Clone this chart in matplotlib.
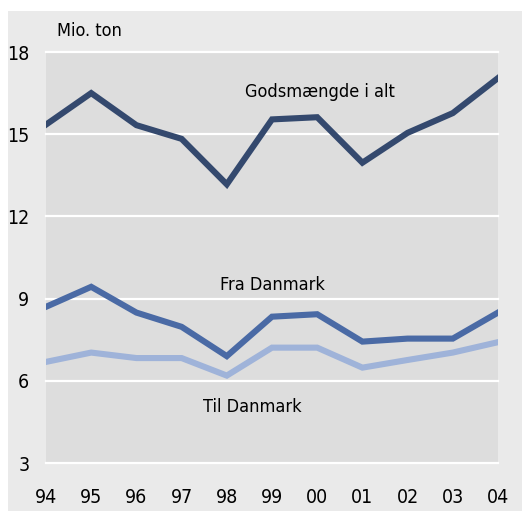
import matplotlib
matplotlib.use("Agg")
import matplotlib.pyplot as plt
from matplotlib.patches import Rectangle
from matplotlib import font_manager

years = ["94", "95", "96", "97", "98", "99", "00", "01", "02", "03", "04"]
godsmaengde = [15.35, 16.5, 15.33, 14.83, 13.17, 15.54, 15.62, 13.96, 15.05, 15.77, 17.05]
fra_danmark = [8.7, 9.43, 8.49, 7.97, 6.9, 8.34, 8.43, 7.43, 7.54, 7.54, 8.49]
til_danmark = [6.69, 7.03, 6.83, 6.83, 6.19, 7.21, 7.21, 6.48, 6.76, 7.03, 7.41]
yticks = [3, 6, 9, 12, 15, 18]

names = sorted({f.name + " | " + str(f.stretch) for f in font_manager.fontManager.ttflist})
print(names)

plt.rcParams['font.family'] = ['DejaVu Sans']
plt.rcParams['font.stretch'] = 'condensed'

W, H = 522, 511
fig = plt.figure(figsize=(W / 100, H / 100), dpi=100, facecolor="white")
fig.patches.append(Rectangle((8 / W, 0), 1 - 8 / W, (H - 11) / H, transform=fig.transFigure,
                             facecolor="#eaeaea", edgecolor="none", zorder=-10))

ax = fig.add_axes([46 / W, (H - 463) / H, (498 - 46) / W, (463 - 52) / H])
ax.set_facecolor("#dddddd")
x = list(range(len(years)))

for v in yticks:
    ax.axhline(v, color="white", lw=1.6, zorder=1, clip_on=False)

lw = 4.4
ax.plot(x, til_danmark, color="#9fb3d9", lw=lw, zorder=3, solid_joinstyle="miter")
ax.plot(x, fra_danmark, color="#4a6aa5", lw=lw, zorder=4, solid_joinstyle="miter")
ax.plot(x, godsmaengde, color="#34496e", lw=lw, zorder=5, solid_joinstyle="miter")

ax.set_xlim(0, 10)
ax.set_ylim(3, 18)
ax.set_xticks(x)
ax.set_xticklabels(years)
ax.set_yticks(yticks)
ax.set_yticklabels([str(v) for v in yticks])
ax.tick_params(axis="both", length=0, labelsize=14, colors="black")
ax.tick_params(axis="x", pad=18)
ax.tick_params(axis="y", pad=12)
for s in ax.spines.values():
    s.set_visible(False)

ax.text(6.06, 16.54, "Godsmængde i alt", ha="center", va="center", fontsize=13)
ax.text(5.02, 9.5, "Fra Danmark", ha="center", va="center", fontsize=13)
ax.text(4.57, 5.05, "Til Danmark", ha="center", va="center", fontsize=13)
fig.text(57 / W, 1 - 31 / H, "Mio. ton", ha="left", va="center", fontsize=13)

fig.savefig("out.png", dpi=100, facecolor=fig.get_facecolor())
